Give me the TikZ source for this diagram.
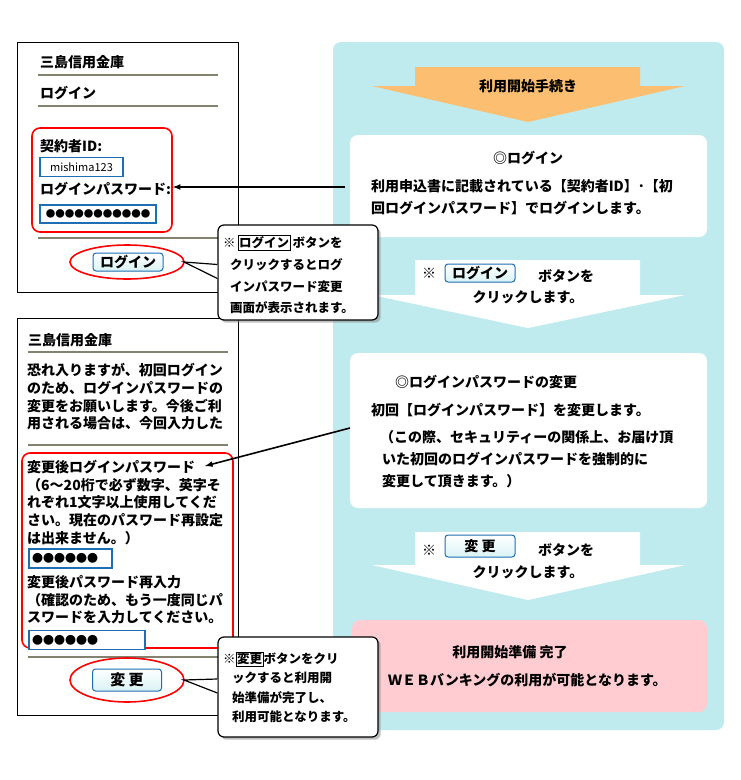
\documentclass[tikz,border=0pt]{standalone}
\usepackage{fontspec}
\setmainfont{Noto Sans CJK JP}
\usetikzlibrary{positioning,shadows}
\definecolor{panel}{RGB}{192,235,238}
\definecolor{orng}{RGB}{252,190,112}
\definecolor{pinkbox}{RGB}{255,204,210}
\definecolor{rulec}{RGB}{130,130,110}
\definecolor{btnblue}{RGB}{30,110,180}
\setlength{\fboxsep}{1pt}
\begin{document}
\begin{tikzpicture}[x=1pt,y=-1pt,
  every node/.style={font=\bfseries\fontsize{14}{15}\selectfont, inner sep=0pt},
  txt/.style={anchor=west},
  phone/.style={draw, line width=1pt, fill=white},
  rulel/.style={rulec, line width=1.3pt},
  redbox/.style={draw=red, line width=1.6pt, rounded corners=8pt},
  inbox/.style={draw=btnblue, line width=1.2pt, fill=white, font=\fontsize{11}{12}\selectfont},
  btn/.style={draw=btnblue, line width=1pt, rounded corners=3pt, top color=white, bottom color=panel!60},
  step box/.style={fill=white, rounded corners=8pt},
  callout/.style={draw, line width=1.2pt, fill=white, rounded corners=6pt, drop shadow={opacity=0.5}},
  ctxt/.style={anchor=west, font=\bfseries\fontsize{12.5}{14}\selectfont},
  link/.style={-latex, line width=1.6pt}]
\useasboundingbox (0,0) rectangle (740,780);

% right panel
\fill[panel, rounded corners=8pt] (333,42) rectangle (724,730);
\fill[orng] (415,67) -- (640,67) -- (640,86) -- (685,86) -- (528,122) -- (372,86) -- (415,86) -- cycle;
\node (start) at (528,86) {利用開始手続き};

\fill[step box] (350,135) rectangle (707,237);
\node (s1title) at (528,158) {◎ログイン};
\node[txt] (s1a) at (371,186) {利用申込書に記載されている【契約者ID】･【初};
\node[txt] (s1b) at (371,208) {回ログインパスワード】でログインします。};

\fill[white] (415,260) -- (640,260) -- (640,295) -- (685,295) -- (528,328) -- (372,295) -- (415,295) -- cycle;
\node[txt] (k1) at (422,273) {※};
\node[btn, minimum width=70pt, minimum height=18pt] (b1) at (480,273) {ログイン};
\node[txt] (k1b) at (538,276) {ボタンを};
\node (k1c) at (528,297) {クリックします。};

\fill[step box] (350,353) rectangle (707,508);
\node[txt] (s2title) at (395,382) {◎ログインパスワードの変更};
\node[txt] (s2a) at (371,410) {初回【ログインパスワード】を変更します。};
\node[txt] (s2b) at (380,437) {（この際、セキュリティーの関係上、お届け頂};
\node[txt] (s2c) at (382,459) {いた初回のログインパスワードを強制的に};
\node[txt] (s2d) at (382,481) {変更して頂きます。）};

\fill[white] (415,532) -- (640,532) -- (640,565) -- (685,565) -- (528,600) -- (372,565) -- (415,565) -- cycle;
\node[txt] (k2) at (422,550) {※};
\node[btn, minimum width=70pt, minimum height=22pt] (b2) at (480,546) {変 更};
\node[txt] (k2b) at (538,550) {ボタンを};
\node (k2c) at (528,572) {クリックします。};

\fill[pinkbox, rounded corners=8pt] (352,620) rectangle (707,712);
\node (done) at (510,652) {利用開始準備 完了};
\node[txt] (done2) at (388,680) {ＷＥＢバンキングの利用が可能となります。};

% phone 1
\draw[phone] (17,42) rectangle (238,292);
\node[txt] (p1title) at (40,62) {三島信用金庫};
\draw[rulel] (38,75) -- (218,75);
\node[txt] (p1login) at (40,93) {ログイン};
\draw[rulel] (38,106) -- (218,106);
\node[redbox, minimum width=140pt, minimum height=104pt] (r1) at (102,180) {};
\node[txt] (id) at (40,146) {契約者ID:};
\node[inbox, minimum width=83pt, minimum height=19pt] (idin) at (81.5,167) {mishima123};
\node[txt] (pw) at (40,189) {ログインパスワード:};
\node[inbox, minimum width=116pt, minimum height=18pt, font=\fontsize{9.5}{10}\selectfont] (pwin) at (98,214) {●●●●●●●●●●●};
\draw[rulel] (38,238) -- (218,238);
\draw[red, line width=1.6pt] (127,262) ellipse (57 and 17);
\coordinate (e1) at (184,262);
\node[btn, minimum width=70pt, minimum height=18pt] (lb1) at (128,262) {ログイン};

% phone 2
\draw[phone] (17,318) rectangle (238,715);
\node[txt] (p2title) at (28,340) {三島信用金庫};
\draw[rulel] (28,352) -- (228,352);
\node[txt] (m1) at (27,370) {恐れ入りますが、初回ログイン};
\node[txt] (m2) at (27,388) {のため、ログインパスワードの};
\node[txt] (m3) at (27,406) {変更をお願いします。今後ご利};
\node[txt] (m4) at (27,423) {用される場合は、今回入力した};
\draw[rulel] (28,445) -- (228,445);
\node[redbox, minimum width=211pt, minimum height=195pt] (r2) at (127.5,550.5) {};
\node[txt] (n1) at (27,467) {変更後ログインパスワード};
\node[txt] (n2) at (27,485) {（6～20桁で必ず数字、英字そ};
\node[txt] (n3) at (27,502) {れぞれ1文字以上使用してくだ};
\node[txt] (n4) at (27,520) {さい。現在のパスワード再設定};
\node[txt] (n5) at (27,538) {は出来ません。）};
\node[inbox, minimum width=83pt, minimum height=19pt, text width=77pt] (nin1) at (70.5,558.5) {●●●●●●};
\node[txt] (n6) at (27,582) {変更後パスワード再入力};
\node[txt] (n7) at (27,600) {（確認のため、もう一度同じパ};
\node[txt] (n8) at (27,617) {スワードを入力してください。};
\node[inbox, minimum width=116pt, minimum height=19pt, text width=110pt] (nin2) at (87,640) {●●●●●●};
\draw[rulel] (28,657) -- (228,657);
\draw[red, line width=1.6pt] (127,680) ellipse (57 and 22);
\coordinate (e2) at (184,680);
\node[btn, minimum width=69pt, minimum height=22pt, font=\bfseries\fontsize{15}{16}\selectfont] (lb2) at (127,680) {変 更};

% connectors
\coordinate (c1) at (345,187);
\coordinate (c2) at (350,428);
\draw[link] (c1) -- (r1.east |- c1);
\draw[link] (c2) -- (205,466);

% callouts
\node[callout, minimum width=160pt, minimum height=95pt] (co1) at (298,272.5) {};
\fill[white] ([yshift=-6]co1.west) -- (e1) -- ([yshift=8]co1.west) -- cycle;
\draw[line width=1.2pt] ([yshift=-6]co1.west) -- (e1) -- ([yshift=8]co1.west);
\node[ctxt] (t1) at (223,243) {※\,\fbox{ログイン}\,ボタンを};
\node[ctxt] (t2) at (230,265) {クリックするとログ};
\node[ctxt] (t3) at (230,287) {インパスワード変更};
\node[ctxt] (t4) at (230,308) {画面が表示されます。};

\node[callout, minimum width=160pt, minimum height=100pt] (co2) at (298,687) {};
\fill[white] ([yshift=-6]co2.west) -- (e2) -- ([yshift=8]co2.west) -- cycle;
\draw[line width=1.2pt] ([yshift=-6]co2.west) -- (e2) -- ([yshift=8]co2.west);
\node[ctxt] (u1) at (223,659) {※\fbox{変更}ボタンをクリ};
\node[ctxt] (u2) at (232,678) {ックすると利用開};
\node[ctxt] (u3) at (232,698) {始準備が完了し、};
\node[ctxt] (u4) at (232,717) {利用可能となります。};
\end{tikzpicture}
\end{document}
